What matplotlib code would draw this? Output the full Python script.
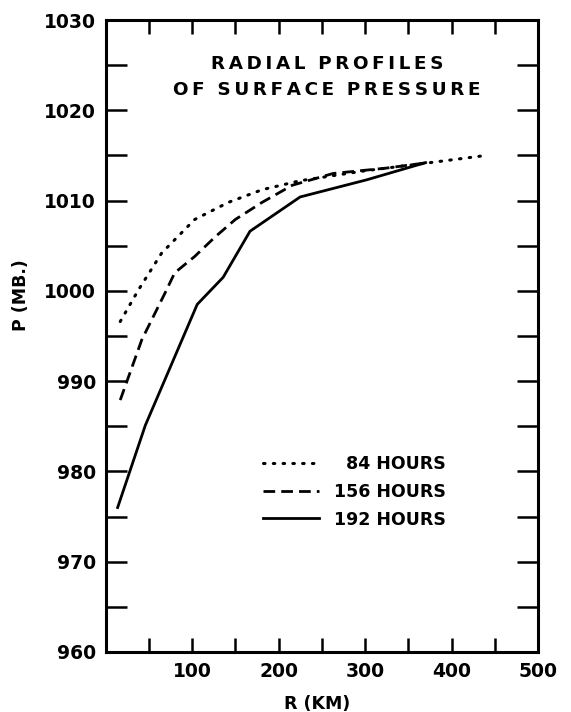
import numpy as np
import matplotlib
matplotlib.use("Agg")
import matplotlib.pyplot as plt
from matplotlib.ticker import MultipleLocator

# radial profiles (R in km, P in mb)
r_84 = [17, 38, 65, 103, 142, 181, 225, 300, 375, 440]
p_84 = [996.6, 1000.1, 1004.2, 1007.9, 1009.8, 1011.2, 1012.2, 1013.3, 1014.2, 1015.0]

r_156 = [17, 42, 69, 80, 103, 127, 150, 181, 216, 263, 325, 372]
p_156 = [987.9, 994.6, 999.8, 1002.0, 1003.8, 1006.0, 1007.9, 1009.8, 1011.7, 1013.0, 1013.6, 1014.2]

r_192 = [14, 46, 106, 136, 167, 225, 302, 370]
p_192 = [976.0, 985.1, 998.5, 1001.5, 1006.6, 1010.4, 1012.3, 1014.2]

labels = ["\u200784 HOURS", "156 HOURS", "192 HOURS"]
x_ticks = [100, 200, 300, 400, 500]
y_ticks = [960, 970, 980, 990, 1000, 1010, 1020, 1030]


def spaced(s):
    # old lettering-guide text is set wide, add a thin space between letters
    return "\u2009".join(s)


plt.rcParams['font.family'] = ['DejaVu Sans']
plt.rcParams['font.weight'] = 'bold'

fig = plt.figure(figsize=(5.71, 7.12), dpi=100)
ax = fig.add_axes([0.1848, 0.0843, 0.7574, 0.8876])

ax.plot(r_84, p_84, color='black', lw=2.2, linestyle=(0, (0.5, 2.7)),
        dash_capstyle='round', label=labels[0])
ax.plot(r_156, p_156, color='black', lw=2.0, linestyle=(0, (4.2, 2.2)), label=labels[1])
ax.plot(r_192, p_192, color='black', lw=2.0, linestyle='-', label=labels[2])

ax.set_xlim(0, 500)
ax.set_ylim(960, 1030)
ax.set_xticks(x_ticks)
ax.set_yticks(y_ticks)
ax.xaxis.set_minor_locator(MultipleLocator(50))
ax.yaxis.set_minor_locator(MultipleLocator(5))

ax.tick_params(axis='x', which='both', direction='in', length=10, width=1.8,
               top=True, labelsize=13.5, pad=7)
ax.tick_params(axis='y', which='both', direction='in', length=15, width=1.8,
               right=True, labelsize=13.5, pad=7)
for s in ax.spines.values():
    s.set_linewidth(2.2)

ax.set_xlabel("R (KM)", fontsize=12.5, fontweight='bold')
ax.xaxis.set_label_coords(0.49, -0.068)
ax.set_ylabel("P (MB.)", fontsize=12.5, fontweight='bold')
ax.yaxis.set_label_coords(-0.175, 0.565)

ax.text(256, 1025.1, spaced("RADIAL") + "  " + spaced("PROFILES"),
        ha='center', va='center', fontsize=13.2)
ax.text(256, 1022.3, spaced("OF") + "  " + spaced("SURFACE") + "  " + spaced("PRESSURE"),
        ha='center', va='center', fontsize=13.2)

leg = ax.legend(loc='upper left', bbox_to_anchor=(0.348, 0.322), frameon=False,
                prop={'size': 12.5, 'weight': 'bold'}, handlelength=3.2,
                handletextpad=0.9, labelspacing=0.55, borderaxespad=0)

fig.savefig("out.png", dpi=100)
